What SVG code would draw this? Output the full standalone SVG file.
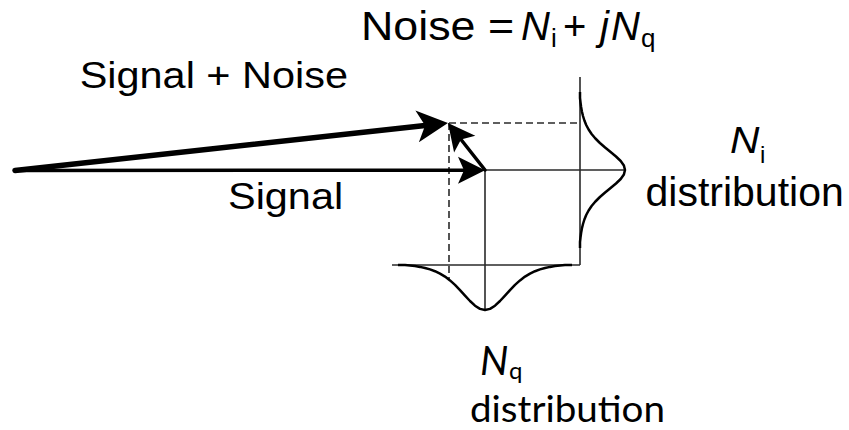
<svg xmlns="http://www.w3.org/2000/svg" width="849" height="430" viewBox="0 0 849 430">
<style>
.txt{font-family:"Liberation Sans",Arial,sans-serif;fill:#000}
.it{font-style:italic}
.cal{font-family:Lato,"Liberation Sans",sans-serif;fill:#000}
.thin{stroke:#2a2a2a;stroke-width:1.6;fill:none}
.dash{stroke:#2a2a2a;stroke-width:1.6;fill:none;stroke-dasharray:7 4}
.bell{stroke:#000;stroke-width:2.5;fill:none;stroke-linejoin:round}
.vec{stroke:#000;fill:none;stroke-linecap:round}
</style>
<defs>
<marker id="headBig" markerUnits="userSpaceOnUse" orient="auto" markerWidth="40" markerHeight="40" refX="8" refY="0" overflow="visible">
<path d="M0,-16 L31,0 L0,16 L8,0 Z" fill="#000"/>
</marker>
<marker id="headMed" markerUnits="userSpaceOnUse" orient="auto" markerWidth="40" markerHeight="40" refX="6" refY="0" overflow="visible">
<path d="M0,-13.5 L27,0 L0,13.5 L6,0 Z" fill="#000"/>
</marker>
</defs>

<g id="axes">
<line class="thin" x1="580" y1="77" x2="580" y2="265"/>
<line class="thin" x1="392" y1="265" x2="580" y2="265"/>
<line class="thin" x1="485" y1="170" x2="625" y2="170"/>
<line class="thin" x1="485" y1="170" x2="485" y2="310"/>
<line class="dash" x1="449" y1="123" x2="580" y2="123"/>
<line class="dash" x1="449" y1="123" x2="449" y2="279.5"/>
</g>

<g id="ni-curve">
<polyline class="bell" points="580,92 580,98 580.5,102.5 581.1,107 581.9,111.5 583,116 584.4,120.5 586.2,125 588.6,129.5 591.6,134 595.4,138.5 599.9,143 605.1,147.5 610.6,152 616,156.5 620.7,161 623.9,165.5 625,170 623.9,174.5 620.7,179 616,183.5 610.6,188 605.1,192.5 599.9,197 595.4,201.5 591.6,206 588.6,210.5 586.2,215 584.4,219.5 583,224 581.9,228.5 581.1,233 580.5,237.5 580,242 580,248"/>
</g>

<g id="nq-curve">
<polyline class="bell" points="398,265 405,265 410,265.5 415,266.1 420,266.9 425,268 430,269.4 435,271.2 440,273.6 445,276.6 450,280.4 455,284.9 460,290.1 465,295.6 470,301 475,305.7 480,308.9 485,310 490,308.9 495,305.7 500,301 505,295.6 510,290.1 515,284.9 520,280.4 525,276.6 530,273.6 535,271.2 540,269.4 545,268 550,266.9 555,266.1 560,265.5 565,265 572,265"/>
</g>

<g id="connectors">
<line class="vec" x1="15" y1="170.5" x2="425.1" y2="125.5" stroke-width="5.5" marker-end="url(#headBig)"/>
<line class="vec" x1="15" y1="170.5" x2="464" y2="170.2" stroke-width="3.5" marker-end="url(#headMed)"/>
<line class="vec" x1="485" y1="170" x2="461" y2="139.5" stroke-width="3.5" marker-end="url(#headMed)"/>
</g>

<g id="label-noise-eq">
<text class="txt" transform="matrix(1.12 0 0 1 361 40)" x="0" y="0" font-size="40">Noise =</text>
<text class="txt it" x="521" y="40" font-size="40">N</text>
<text class="txt" x="551" y="47" font-size="26">i</text>
<text class="txt" x="563" y="40" font-size="40">+</text>
<text class="txt it" x="600" y="40" font-size="40">j</text>
<text class="txt it" x="611" y="40" font-size="40">N</text>
<text class="txt" x="641" y="47" font-size="26">q</text>
</g>

<g id="label-signal-noise">
<text class="txt" transform="matrix(1.12 0 0 1 79.7 88)" x="0" y="0" font-size="37">Signal + Noise</text>
</g>

<g id="label-signal">
<text class="txt" transform="matrix(1.12 0 0 1 228 209)" x="0" y="0" font-size="37">Signal</text>
</g>

<g id="label-ni">
<text class="txt it" transform="matrix(1.1 0 0 1 730 153)" x="0" y="0" font-size="37">N</text>
<text class="txt" x="760" y="163" font-size="24">i</text>
<text class="txt" x="645.5" y="206" font-size="41">distribution</text>
</g>

<g id="label-nq">
<text class="cal it" x="480" y="375" font-size="40">N</text>
<text class="cal" x="509" y="379" font-size="24">q</text>
<text class="cal" x="470" y="422" font-size="37" textLength="195" lengthAdjust="spacingAndGlyphs">distribution</text>
</g>
</svg>
